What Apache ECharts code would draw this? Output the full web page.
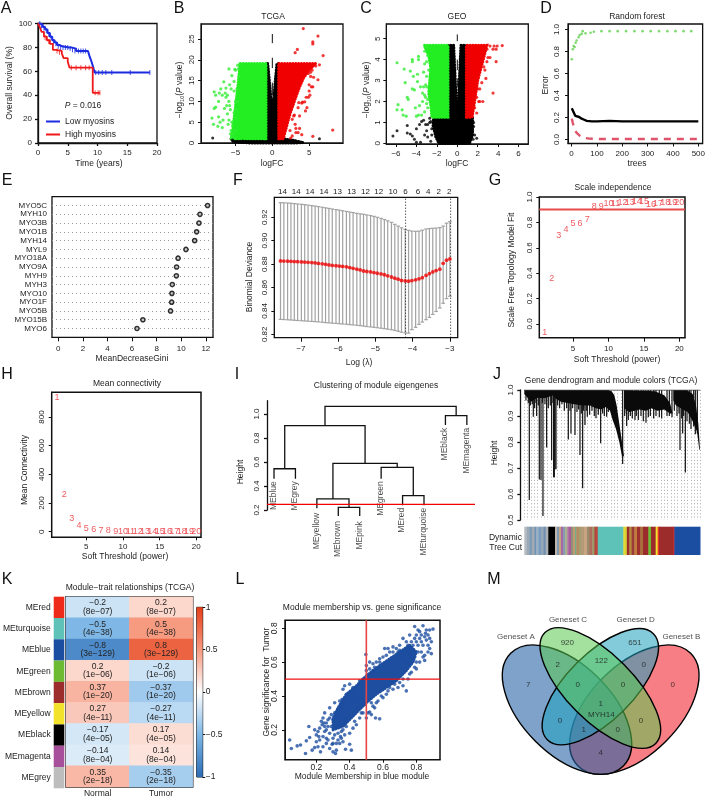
<!DOCTYPE html>
<html><head><meta charset="utf-8"><style>html,body{margin:0;padding:0;background:#fff}#c{width:708px;height:798px}</style>
<script src="https://cdn.jsdelivr.net/npm/echarts@6/dist/echarts.min.js"></script></head>
<body><div id="c"></div><script>
// ---------- A survival
const kmLow=[[0,100],[0.4,99],[0.8,97],[1.2,95],[1.6,92],[2,89],[2.4,86],[2.8,84],[3.2,82],[3.6,81],[4,80],[5.2,80],[5.6,79],[6.4,77],[8.4,76],[8.7,72],[9,68],[9.3,63],[9.5,59],[18.8,59]];
const kmHigh=[[0,100],[0.3,97],[0.6,93],[1,89],[1.5,86],[2,83],[2.5,78],[3,77],[4,75],[4.3,71],[5,68],[5.3,63],[9.2,63],[9.2,42],[10.4,42]];
const kmLowCens=[[0.3,100],[0.6,98],[1,96],[1.4,94],[1.8,91],[2.2,88],[2.6,85],[3,83],[3.4,81],[3.8,80],[4.2,80],[4.6,80],[5,80],[5.4,79],[5.8,78],[6.2,77],[6.8,77],[7.2,77],[7.6,77],[8,77],[9.7,59],[10.2,59],[10.8,59],[11.4,59],[12.4,59],[15.5,59],[18.8,59]];
const kmHighCens=[[1.2,88],[1.8,85],[3.2,77],[3.6,76],[5.6,63],[6.4,63],[7.2,63],[8,63],[8.6,63],[9.6,42],[10.1,42],[10.4,42]];
// ---------- B volcano TCGA
const tcgaGreenCore=[[-0.85,1],[-0.85,19.1],[-4.4,19.1],[-4.5,17],[-4.6,15],[-4.8,12],[-5,9],[-5.2,6],[-5.4,3],[-5.6,1]];
const tcgaRedCore=[[0.85,1],[0.85,19.1],[5.9,19.1],[5,17.5],[4.2,15.5],[3.6,13],[3,10],[2.5,7.5],[2.1,5],[1.8,3],[1.5,1]];
const tcgaBlackCore=[[-0.85,0.6],[-0.85,19.1],[-0.62,19.1],[-0.4,15],[-0.2,11],[-0.05,8],[0.05,8],[0.2,11],[0.4,15],[0.62,19.1],[0.85,19.1],[0.85,0.6]];
const tcgaBlackBase=[[-5.6,1],[-5.3,0.3],[-3,0],[3,0],[4.2,0.1],[3,0.6],[1.5,1]];
const tcgaDash=[[0,24,26.2],[0,18,20.5],[0,11.5,14.5]];
const tcgaGreen=[[-8,4.5],[-8.2,6],[-7.9,8.3],[-7.7,8.6],[-7.4,4],[-7.3,6.3],[-7.1,5],[-6.8,3.7],[-6.7,5.5],[-6.5,8.3],[-6.4,12],[-6.3,11],[-6.1,7],[-6,4.5],[-5.9,5.5],[-5.7,8],[-5.6,3],[-5.5,5],[-5.4,4.2],[-5.2,7.3],[-5,3],[-5,6],[-7.7,11.5],[-7.2,12],[-7,13],[-6.6,14.7],[-6.3,13.2],[-6.1,11.5],[-5.9,10],[-5.8,14],[-5.5,16.2],[-5.2,14.8],[-5.1,17.7],[-5.9,17.8],[-5.2,12.5],[-5,10],[-5.6,13],[-5.8,9],[-5,17.5],[-4.8,13],[-4.7,10],[-4.9,8],[-4.6,17.8],[-4.5,16],[-4.7,18.7],[-4.4,19],[-7.9,12.3],[-6.2,9],[-6.8,11.5],[-7.3,10],[-5.5,1.6],[-5.3,2.3],[-5.7,2.2],[-5.1,1.2]];
const tcgaRed=[[4.2,27.5],[6.2,25.7],[5.5,24.3],[5.5,23.8],[3.4,22.5],[3.1,21.7],[6.9,21],[6.4,18.8],[5.9,18.5],[5.4,17.5],[5.2,17],[4.9,16.7],[5.2,16],[5.6,15.8],[6.2,15.2],[5,14],[5.3,13.5],[5.5,13.5],[5,12.5],[5.1,11.5],[4.6,11],[4.9,11],[4.1,9.8],[4.4,9.9],[4,9.6],[3.6,9.7],[3.5,8.5],[2.9,11],[2.7,9],[2.9,6.5],[3,6.7],[2.7,5.7],[3.1,4.5],[3.2,3.5],[3.7,3.5],[3.5,2.5],[2.7,1.7],[2.4,3],[2.5,1.2],[5.5,1.6],[8.2,3.1],[4.5,7.7],[4.7,8.5],[3.7,6.5],[3.2,2.5],[4,2]];
const tcgaBlack=[[-8.1,1.2],[6.4,1],[3.2,0.3],[-5.4,0.7],[-4,0.5],[-3.5,0.3],[3,0.5],[3.5,0.2]];
// ---------- C volcano GEO
const geoGreenCore=[[-0.9,1.25],[-0.9,4.68],[-3.25,4.68],[-2.8,4.2],[-2.6,3.6],[-2.7,3],[-2.8,2.4],[-2.6,1.8],[-2.5,1.25]];
const geoRedCore=[[0.88,1.25],[0.88,4.68],[2.9,4.68],[2.55,4],[2,3],[1.7,2],[1.45,1.25]];
const geoBlackCore=[[-2.3,1.25],[-2.4,0.9],[-2.1,0.3],[-1.8,0],[1.2,0],[1.5,0.4],[1.5,1.25],[0.88,1.25],[0.88,4.68],[0.35,4.68],[0.15,2.5],[0.02,1.3],[-0.05,1.3],[-0.15,2.5],[-0.35,4.68],[-0.9,4.68],[-0.9,1.25]];
const geoDash=[[0,4.88,5.2],[0,3.5,4],[0,2.7,3.1]];
const geoGreen=[[-5.9,3.85],[-5.2,3.55],[-4.6,3.45],[-4.4,4],[-4.4,3.9],[-3.8,4.15],[-3.8,4],[-4.3,3.2],[-3.9,2.95],[-3.9,3.3],[-5.1,2.9],[-5.4,1.6],[-5.8,1.85],[-5.9,1.6],[-5.3,1.35],[-5,1.3],[-4.8,2.1],[-4.9,2.2],[-4.4,2.6],[-4.1,1.7],[-4,1.3],[-3.8,1.35],[-3.7,1.8],[-3.6,2.7],[-3.4,2.4],[-3.3,3.4],[-3.2,4.4],[-3.2,3.8],[-3,3.2],[-3.1,2.8],[-2.9,1.7],[-3.2,1.5],[-3.4,2],[-3.5,1.35],[-4.2,2.55],[-3,2.7],[-2.8,3.5],[-3,4.6],[-3.1,2.2],[-3.2,2.3],[-3,1.9],[-2.9,2.1],[-3.3,2.7],[-3,3.9],[-2.9,4.2]];
const geoRed=[[3.6,4.65],[3.8,4.5],[4.4,4.67],[3.9,4.65],[3.5,4.5],[3.2,4.1],[3,4.1],[3.8,3.9],[2.9,3.9],[2.6,3.65],[2.7,3.5],[2.1,3.4],[2.8,3.1],[3.5,2.4],[2.2,2.6],[2,2.6],[1.9,2.2],[2.2,2],[2.5,2],[2.1,2],[1.9,1.45],[1.7,1.7],[2.4,2.9],[2.9,4.5],[3.2,4.65]];
const geoBlack=[[-6.3,0.35],[-5.9,0.6],[-4.9,0.85],[-4.9,0.5],[-4.6,0.45],[-4.4,0.35],[-4.2,0.2],[-4,0.05],[-3.6,0.05],[-4,0.7],[-3.5,1.05],[-3.1,0.9],[-3.3,1.1],[-2.9,0.3],[-3,0.6],[-2.7,1],[-3.2,0.4],[-2.6,0.1],[1.6,0.8],[1.9,0.25],[1.7,0.4],[1.5,0.6],[1.6,1],[1.55,0.2],[-3.7,0.9],[-2.5,0.7],[-2.5,0.4],[-2.7,1.2],[-2.9,0.9],[-2.6,1.05]];
// ---------- D random forest
const rfOOB=[[1,0.285],[5,0.27],[10,0.24],[15,0.215],[20,0.21],[30,0.205],[40,0.19],[50,0.18],[60,0.17],[80,0.165],[100,0.165],[150,0.17],[200,0.165],[300,0.165],[400,0.165],[500,0.165]];
const rfClass1=[[1,0.19],[5,0.15],[10,0.11],[15,0.08],[20,0.06],[30,0.04],[40,0.025],[50,0.015],[70,0.008],[100,0.005],[200,0.005],[300,0.005],[400,0.005],[500,0.005]];
const rfClass2=[[1,0.73],[5,0.82],[8,0.85],[12,0.84],[16,0.88],[20,0.9],[28,0.93],[32,0.95],[40,0.96],[44,0.985],[55,0.965],[75,0.97],[88,0.98],[118,0.985],[150,0.985],[182,0.985],[215,0.985],[248,0.985],[280,0.985],[312,0.985],[345,0.985],[378,0.985],[410,0.985],[442,0.985],[472,0.985]];
// ---------- E variable importance
const myoGenes=['MYO5C','MYH10','MYO3B','MYO1B','MYH14','MYL9','MYO18A','MYO9A','MYH9','MYH3','MYO10','MYO1F','MYO5B','MYO15B','MYO6'];
const myoGini=[12.14,11.52,11.44,11.25,11.09,10.38,9.74,9.62,9.6,9.27,9.24,9.22,9.13,6.88,6.4];
// ---------- F lasso CV
const cvLogLambda=[-7.55,-7.46,-7.36,-7.27,-7.18,-7.09,-6.99,-6.90,-6.81,-6.71,-6.62,-6.53,-6.43,-6.34,-6.25,-6.16,-6.06,-5.97,-5.88,-5.78,-5.69,-5.60,-5.50,-5.41,-5.32,-5.23,-5.13,-5.04,-4.95,-4.85,-4.76,-4.67,-4.57,-4.48,-4.39,-4.30,-4.20,-4.11,-4.02,-3.92,-3.83,-3.74,-3.64,-3.55,-3.46,-3.37,-3.27,-3.18,-3.09,-3.00];
const cvMean=[.8827,.8826,.8825,.8824,.8822,.8821,.8819,.8817,.8815,.8813,.8810,.8806,.8802,.8798,.8793,.8789,.8786,.8783,.8780,.8777,.8770,.8764,.8757,.8750,.8741,.8737,.8733,.8728,.8722,.8716,.8709,.8700,.8690,.8680,.8671,.8660,.8656,.8654,.8659,.8666,.8674,.8684,.8703,.8718,.8733,.8745,.8757,.8807,.8834,.8844];
const cvUpper=[.9325,.9324,.9322,.9320,.9317,.9314,.9311,.9308,.9304,.9300,.9296,.9291,.9286,.9281,.9276,.9271,.9266,.9261,.9256,.9250,.9245,.9240,.9234,.9229,.9226,.9220,.9215,.9208,.9200,.9191,.9181,.9170,.9157,.9140,.9125,.9110,.9097,.9088,.9082,.9080,.9082,.9090,.9100,.9104,.9106,.9108,.9112,.9125,.9150,.9163];
const cvLower=[.8328,.8326,.8324,.8322,.8320,.8318,.8316,.8314,.8312,.8310,.8308,.8306,.8303,.8300,.8298,.8295,.8293,.8290,.8288,.8286,.8283,.8280,.8277,.8274,.8270,.8266,.8263,.8260,.8256,.8252,.8248,.8244,.8239,.8233,.8226,.8218,.8212,.8210,.8240,.8260,.8285,.8305,.8325,.8345,.8370,.8395,.8425,.8465,.8505,.8525];
const cvTopPos=[-7.5,-7.13,-6.76,-6.38,-6.02,-5.64,-5.27,-4.91,-4.53,-4.19,-3.86,-3.58,-3.3,-3.02];
const cvTopLabels=['14','14','14','14','13','13','12','12','10','6','6','4','2','2'];
const cvVLines=[-4.19,-2.98];
// ---------- G / H soft threshold
const softPower=[1,2,3,4,5,6,7,8,9,10,11,12,13,14,15,16,17,18,19,20];
const scaleFit=[-0.066,0.36,0.695,0.742,0.795,0.79,0.823,0.929,0.924,0.945,0.948,0.953,0.958,0.966,0.966,0.94,0.945,0.953,0.955,0.958];
const meanConn=[935,261,93,40,21,12,8,5,4,3,2,2,2,1,1,1,1,1,0,0];
// ---------- I eigengene clustering
const eigenLeaves=['MEblue','MEgrey','MEyellow','MEbrown','MEpink','MEgreen','MEred','MEturquoise','MEblack','MEmagenta'];
const eigenLabelTop=[0.436,0.436,0.172,0.103,0.103,0.436,0.214,0.214,0.881,0.881];
// xLeft, legBottomLeft, xRight, legBottomRight, mergeHeight
const eigenMerges=[[1,0.46,2,0.46,0.544],[4,0.15,5,0.15,0.222],[3,0.214,4.5,0.222,0.292],[7,0.24,8,0.24,0.32],[6,0.46,7.5,0.32,0.556],[3.75,0.292,6.75,0.556,0.589],[1.5,0.544,5.25,0.589,0.903],[9,0.908,10,0.908,0.986],[3.38,0.903,9.5,0.986,1.064]];
// ---------- J gene dendrogram
const dendroCluster1=[[0,1],[252,1],[262,.995],[270,.98],[277,.94],[285,.87],[293,.8],[299,.745],[293,.745],[285,.8],[275,.85],[265,.885],[257,.92],[245,.935],[230,.925],[215,.93],[197,.94],[175,.94],[150,.945],[130,.95],[110,.955],[92,.968],[88,.98],[60,.968],[40,.97],[20,.955],[10,.97],[0,.985]];
const dendroCluster2=[[299,1],[392,.995],[420,.98],[437,.95],[445,.91],[437,.91],[420,.925],[400,.92],[380,.93],[365,.92],[345,.925],[330,.92],[315,.915],[299,.93]];
const dendroCluster3=[[447,1],[487,1],[505,.985],[515,.94],[522,.87],[527,.77],[525,.77],[518,.84],[505,.88],[490,.915],[470,.93],[455,.94],[447,.96]];
const dendroTop=[[0,1],[527,1]];
const dendroStems=[[15,.577],[45,.656],[50,.654],[56,.515],[67,.779],[82,.731],[88,.664],[90,.664],[92,.695],[95,.695],[132,.81],[140,.833],[152,.827],[167,.75],[175,.622],[182,.865],[229,.795],[189,.897],[215,.891],[247,.897],[295,.715],[307,.862],[365,.874],[332,.885],[467,.769],[483,.683],[475,.833],[519,.833],[27,.897],[37,.9]];
const dendroComb=[[5,.96],[12,.95],[18,.94],[24,.945],[31,.93],[35,.95],[42,.94],[54,.95],[62,.945],[72,.93],[78,.94],[86,.95],[100,.94],[106,.93],[113,.945],[120,.92],[127,.93],[137,.92],[145,.93],[158,.915],[163,.925],[171,.91],[178,.92],[186,.92],[196,.905],[203,.92],[210,.9],[222,.905],[235,.91],[240,.9],[252,.915],[301,.9],[306,.91],[312,.885],[318,.9],[324,.89],[336,.9],[342,.885],[350,.9],[357,.88],[372,.895],[378,.9],[388,.89],[395,.9],[405,.895],[412,.89],[428,.9],[435,.9],[443,.895],[450,.92],[458,.9],[464,.91],[472,.89],[478,.9],[488,.88],[495,.87],[500,.85],[508,.86],[513,.83]];
const stripStart=[0,8,16,24,30,36,42,50,58,64,72,92,98,104,110,116,122,128,132,140,146,152,156,164,170,180,188,196,204,210,216,220,297,304,308,315,322,330,338,348,356,372,380,394,400,404,446,450];
const stripColor=['#b5bac0','#9aa9b6','#7e9cb8','#a7a8ab','#6e95b6','#9db0c4','#7a9dbd','#93a7b8','#6f8fb0','#aab0b5','#000000','#bdb5a8','#7e98b4','#c6a37a','#a56aa6','#8a9ab0','#a8b08e','#b58aa8','#a85c9a','#8f8f7a','#c09a70','#6fae88','#b88a60','#a0a070','#b59a78','#caa480','#9a8a6e','#b06c5a','#9a9a6a','#a94a3a','#c4332b','#5fc2b8','#e6d834','#c8b83a','#9c2b2c','#b38a3c','#9c3b3a','#c07a3a','#a0302e','#a8703a','#9c2b2c','#6cbb33','#9c2b2c','#f2e22c','#e8322a','#9c2b2c','#c02a2a','#1b4ea0'];
// ---------- K module-trait
const modules=['MEred','MEturquoise','MEblue','MEgreen','MEbrown','MEyellow','MEblack','MEmagenta','MEgrey'];
const moduleColor=['#ee2a1b','#5fc2b8','#1b4ea0','#6cbb33','#9c2b2c','#f2e22c','#000000','#a84f9b','#bdbdbd'];
const traits=['Normal','Tumor'];
const corNormal=[-0.2,-0.5,-0.8,0.2,0.37,0.27,-0.17,-0.14,0.35];
const corTumor=[0.2,0.5,0.8,-0.2,-0.37,-0.27,0.17,0.14,-0.35];
const corP=['8e−07','4e−38','3e−129','1e−06','1e−20','4e−11','4e−05','8e−04','2e−18'];
const heatStops=['#2b6cb5','#7fb8e6','#ffffff','#f69a80','#e63e18'];
// ---------- L module membership
const mmCore=[[.3,.2],[.36,.22],[.42,.28],[.5,.36],[.56,.41],[.62,.45],[.68,.49],[.74,.55],[.78,.6],[.80,.66],[.76,.7],[.70,.66],[.64,.62],[.58,.58],[.5,.52],[.44,.46],[.38,.41],[.33,.33],[.3,.27]];
const mmPoints=[[.04,.14],[.05,.09],[.085,.105],[.105,.11],[.135,.06],[.14,.135],[.16,.155],[.155,.22],[.175,.08],[.19,.095],[.21,.10],[.225,.07],[.2,.13],[.215,.16],[.19,.2],[.21,.19],[.23,.25],[.235,.23],[.25,.19],[.26,.15],[.27,.14],[.295,.115],[.3,.07],[.315,.06],[.32,.08],[.34,.12],[.36,.13],[.375,.085],[.37,.17],[.33,.18],[.29,.29],[.245,.24],[.33,.31],[.355,.38],[.36,.44],[.38,.41],[.4,.47],[.46,.49],[.49,.465],[.497,.645],[.5,.55],[.52,.6],[.54,.59],[.56,.6],[.61,.68],[.63,.68],[.65,.62],[.64,.66],[.7,.67],[.72,.74],[.75,.7],[.79,.81],[.81,.79],[.84,.815],[.855,.77],[.88,.79],[.9,.795],[.83,.76],[.8,.76],[.77,.72],[.86,.73],[.89,.65],[.84,.63],[.88,.68],[.8,.6],[.78,.61],[.76,.53],[.74,.43],[.7,.48],[.67,.47],[.6,.44],[.63,.43],[.56,.36],[.52,.305],[.5,.27],[.555,.27],[.58,.265],[.53,.29],[.46,.27],[.43,.25],[.42,.21],[.4,.18],[.41,.08],[.4,.115],[.38,.22],[.345,.16],[.25,.3],[.28,.33],[.3,.26],[.24,.27],[.27,.22],[.31,.36],[.34,.37],[.37,.46],[.44,.44],[.42,.45],[.52,.56],[.5,.58],[.55,.57],[.58,.62],[.6,.63],[.66,.69],[.69,.66],[.74,.72],[.76,.76],[.82,.74],[.87,.7],[.85,.61],[.8,.56],[.72,.5],[.66,.44],[.59,.4],[.54,.34],[.48,.3],[.44,.23],[.36,.2],[.3,.12],[.26,.12],[.22,.14],[.24,.1],[.28,.09],[.33,.14],[.2,.17],[.22,.21],[.24,.16],[.26,.2],[.28,.18],[.25,.22],[.27,.26],[.29,.22],[.31,.17],[.33,.22],[.35,.19],[.37,.25],[.3,.15],[.32,.12],[.35,.15],[.28,.27],[.26,.24],[.31,.3],[.33,.27],[.35,.33],[.37,.36],[.39,.33],[.41,.38],[.43,.41],[.45,.38],[.47,.44],[.43,.31],[.45,.33],[.47,.3],[.49,.35],[.39,.26],[.41,.28],[.51,.3],[.53,.36],[.55,.33],[.57,.37],[.6,.39],[.62,.41],[.64,.45],[.66,.5],[.69,.45],[.72,.46],[.75,.5],[.77,.54],[.79,.57],[.82,.6],[.83,.66],[.85,.64],[.87,.66],[.81,.7],[.83,.72],[.85,.75],[.87,.76],[.89,.72],[.8,.72],[.78,.66],[.76,.64],[.78,.7],[.74,.6],[.72,.64],[.7,.7],[.68,.68],[.66,.66],[.62,.64],[.58,.6],[.54,.55],[.48,.5],[.46,.47],[.42,.42],[.4,.42],[.82,.78],[.86,.79],[.79,.74],[.77,.68],[.88,.74],[.84,.7],[.75,.66],[.73,.67],[.81,.66],[.79,.63]];
const mmThresh=0.5;
// ---------- M venn  (cx, cy, semi-major, semi-minor, tilt deg); draw order B, A, D, C
const vennEllipses=[[493,434,239,134,-45],[291,434,239,134,45],[391,365,225,100,-45],[391,369,235,100,45]];
const vennFill=['rgba(240,40,50,.6)','rgba(40,100,165,.6)','rgba(30,160,190,.55)','rgba(90,200,80,.55)'];
const vennCounts=['7','920','651','0','2','122','0','0','0','1','MYH14','0','0','1','0','4'];
const vennCountX=[175,292,495,608,263,394,521,323,459,392,394,270,513,341,443,392];
const vennCountY=[358,232,232,360,298,286,298,360,360,415,448,468,468,495,495,564];
const vennSets=['Geneset A','Geneset C','Geneset D','Geneset B'];
const vennSetX=[138,294,497,634];
const vennSetY=[216,165,165,216];

const FONT='"Liberation Sans",Arial,Helvetica,sans-serif', INK='#1c1c1c';
const grid=[],xAxis=[],yAxis=[],series=[],gfx=[];
const fmtNum=(v,d)=>v.toFixed(d).replace('-','−');
function txt(t,x,y,o={}){gfx.push({type:'text',x,y,rotation:o.rot?Math.PI/2:0,silent:true,z:20,style:{text:t,fill:o.c||INK,font:(o.s||8.5)+'px '+FONT,align:o.a||'center',verticalAlign:'middle',rich:o.rich}});}
function axis(gi,o){return Object.assign({type:'value',gridIndex:gi,min:o.min,max:o.max,position:o.pos,offset:o.offset||0,
 axisLine:{show:o.line!==false,onZero:false,lineStyle:{color:'#111',width:o.lw||1}},
 axisTick:{show:!!o.ticks,length:o.tl||3,customValues:o.ticks,lineStyle:{color:'#111',width:o.lw||1}},
 axisLabel:{show:!!o.ticks,customValues:o.ticks,rotate:o.rot?90:0,fontSize:o.fs||8,fontFamily:FONT,color:INK,margin:o.m||5,formatter:o.f||(v=>fmtNum(v,o.d||0))},
 splitLine:{show:false}},o.extra||{});}
function panel(l,t,w,h,xo,yo,box=true,bw=1.3){const gi=grid.length;
 grid.push({left:l,top:t,width:w,height:h,show:box,borderColor:'#111',borderWidth:bw,backgroundColor:'transparent',containLabel:false});
 xo.pos=xo.pos||'bottom';yo.pos=yo.pos||'left';
 xAxis.push(xo.raw||axis(gi,xo));yAxis.push(yo.raw||axis(gi,yo));return gi;}
const base=gi=>({xAxisIndex:gi,yAxisIndex:gi});
function dots(gi,data,color,size,extra){series.push(Object.assign({type:'scatter',...base(gi),data,symbolSize:size,itemStyle:{color},silent:true,clip:false},extra||{}));}
function polys(gi,list,color,rough){series.push({type:'custom',...base(gi),silent:true,clip:false,data:list.map((_,i)=>[i,i]),
 renderItem:(p,api)=>({type:'polygon',shape:{points:list[api.value(0)].map(q=>api.coord(q))},style:rough?{fill:color,stroke:color,lineWidth:3,lineDash:[0.2,2.6],lineCap:'round'}:{fill:color}})});}
function vsegs(gi,data,color,w,dash){series.push({type:'custom',...base(gi),silent:true,clip:false,data,encode:{x:0,y:[1,2]},
 renderItem:(p,api)=>({type:'line',shape:{x1:api.coord([api.value(0),api.value(1)])[0],y1:api.coord([api.value(0),api.value(1)])[1],x2:api.coord([api.value(0),api.value(2)])[0],y2:api.coord([api.value(0),api.value(2)])[1]},style:{stroke:color,lineWidth:w,lineDash:dash||null}})});}
function numLabels(gi,vals,color){dots(gi,vals.map((v,i)=>[softPower[i],v]),'transparent',1,{label:{show:true,position:'inside',formatter:p=>String(softPower[p.dataIndex]),color,fontSize:9,fontFamily:FONT}});}

// ===== A
let g=panel(38,23.5,119,119.5,{min:0,max:20,ticks:[0,5,10,15,20],lw:1.3,m:6},{min:0,max:100,ticks:[0,20,40,60,80,100],lw:1.3,m:6});
series.push({type:'line',name:'Low myosins',...base(g),data:kmLow,step:'end',symbol:'none',lineStyle:{color:'#1a2be0',width:2},itemStyle:{color:'#1a2be0'},silent:true});
series.push({type:'line',name:'High myosins',...base(g),data:kmHigh,step:'end',symbol:'none',lineStyle:{color:'#f01818',width:1.8},itemStyle:{color:'#f01818'},silent:true});
dots(g,kmLowCens,'#1a2be0',[1,5],{symbol:'rect'});dots(g,kmHighCens,'#f01818',[1,5],{symbol:'rect'});
txt('{i|P}{n| = 0.016}',83,106,{rich:{i:{fontStyle:'italic',fontSize:8.5,fontFamily:FONT,fill:INK},n:{fontSize:8.5,fontFamily:FONT,fill:INK}}});
txt('Time (years)',99,164);txt('Overall survival (%)',10,83,{rot:1});
const volRich={n:{fontSize:8.5,fontFamily:FONT},s:{fontSize:5.5,fontFamily:FONT,verticalAlign:'bottom',padding:[5,0,0,0]},i:{fontSize:8.5,fontStyle:'italic',fontFamily:FONT}};
// ===== B
g=panel(201,24,142,119,{min:-9.69,max:9.6,ticks:[-5,0,5],m:6},{min:0,max:28.6,ticks:[0,5,10,15,20,25],rot:1});
polys(g,[tcgaBlackCore,tcgaBlackBase],'#000',true);polys(g,[tcgaGreenCore],'#22ee22',true);polys(g,[tcgaRedCore],'#f00000',true);
vsegs(g,tcgaDash,'#111',1);
dots(g,tcgaGreen,'#33ee33',3.2);dots(g,tcgaRed,'#ee0808',3.2);dots(g,tcgaBlack,'#000',3);
txt('TCGA',273,17);txt('logFC',272,164);txt('{n|−log}{s|10}{n|(}{i|P}{n| value)}',180,90,{rot:1,rich:volRich});
// ===== C
g=panel(386.3,24,142,120,{min:-6.95,max:6.95,ticks:[-6,-4,-2,0,2,4,6],m:6},{min:-0.03,max:5.7,ticks:[0,1,2,3,4,5],rot:1});
polys(g,[geoBlackCore],'#000',true);polys(g,[geoGreenCore],'#22ee22',true);polys(g,[geoRedCore],'#f00000',true);
vsegs(g,geoDash,'#111',1);
dots(g,geoGreen,'#33ee33',3.2);dots(g,geoRed,'#ee0808',3.2);dots(g,geoBlack,'#000',3);
txt('GEO',457,17);txt('logFC',457,164);txt('{n|−log}{s|10}{n|(}{i|P}{n| value)}',367,90,{rot:1,rich:volRich});
// ===== D
g=panel(568,24,136,119.5,{min:-14,max:517,ticks:[0,100,200,300,400,500],m:6},{min:-0.036,max:1.05,ticks:[0,.2,.4,.6,.8,1],d:1,rot:1,m:7});
series.push({type:'line',...base(g),data:rfOOB,symbol:'none',lineStyle:{color:'#000',width:2.4},silent:true});
series.push({type:'line',...base(g),data:rfClass1,symbol:'none',lineStyle:{color:'#df536b',width:2.4,type:[7,6]},silent:true});
dots(g,rfClass2,'#61d04f',2.6);
txt('Random forest',637,17);txt('trees',637,164);txt('Error',546,85,{rot:1});
// ===== E
const eCats=['',...myoGenes,''];
g=panel(52,196.7,161,140.6,{min:-0.51,max:12.58,ticks:[0,2,4,6,8,10,12],tl:4,m:7},{raw:{type:'category',gridIndex:grid.length,data:eCats,inverse:true,boundaryGap:false,position:'left',axisLine:{show:false},axisTick:{show:false},axisLabel:{interval:0,fontSize:8,fontFamily:FONT,color:INK,margin:5},splitLine:{show:true,interval:(i)=>i>0&&i<eCats.length-1,lineStyle:{color:'#999',type:[1,3],width:1}}}});
dots(g,myoGenes.map((n,i)=>[myoGini[i],n]),'#fff',4.2,{itemStyle:{color:'#bbb',borderColor:'#000',borderWidth:1.5}});
txt('MeanDecreaseGini',132,359);
// ===== F
const fGrid=panel(274.3,197.3,183.4,140.4,{min:-7.717,max:-2.79,ticks:[-7,-6,-5,-4,-3],tl:4,m:7},{min:.8171,max:.9371,ticks:[.82,.84,.86,.88,.90,.92],d:2,rot:1,m:6});
g=fGrid;
const cvBars=cvLogLambda.map((x,i)=>[x,cvLower[i],cvUpper[i]]);
series.push({type:'custom',...base(g),silent:true,data:cvBars,encode:{x:0,y:[1,2]},renderItem:(p,api)=>{const x=api.value(0),a=api.coord([x,api.value(1)]),b=api.coord([x,api.value(2)]);const st={stroke:'#a2a2a2',lineWidth:1.2};return{type:'group',children:[{type:'line',shape:{x1:a[0],y1:a[1],x2:b[0],y2:b[1]},style:st},{type:'line',shape:{x1:a[0]-1.8,y1:a[1],x2:a[0]+1.8,y2:a[1]},style:st},{type:'line',shape:{x1:b[0]-1.8,y1:b[1],x2:b[0]+1.8,y2:b[1]},style:st}]};}});
dots(g,cvLogLambda.map((x,i)=>[x,cvMean[i]]),'#f00000',3.8);
vsegs(g,cvVLines.map(x=>[x,.8171,.9371]),'#111',1,[1,2]);
txt('Log (λ)',359,363);txt('Binomial Deviance',250,277,{rot:1});
// ===== G
g=panel(539.3,197,145.7,140.7,{min:0.247,max:20.8,ticks:[5,10,15,20],tl:4,m:7},{min:-0.108,max:1.0,ticks:[0,.2,.4,.6,.8,1],d:1,rot:1,m:6},true,1.5);
numLabels(g,scaleFit,'#ea3036');
series.push({type:'line',...base(g),data:[[0.247,.902],[20.8,.902]],symbol:'none',lineStyle:{color:'#e84a4a',width:2},silent:true});
txt('Scale independence',613,188);txt('Soft Threshold (power)',617,360);txt('Scale Free Topology Model Fit',512,270,{rot:1});
// ===== H
g=panel(51.7,392.3,149.3,145,{min:.28,max:20.64,ticks:[5,10,15,20],m:5},{min:-39,max:973,ticks:[0,200,400,600,800],rot:1,m:6},true,1.5);
numLabels(g,meanConn,'#ea3036');
txt('Mean connectivity',127,384);txt('Soft Threshold (power)',125,557);txt('Mean Connectivity',25,470,{rot:1});
// ===== I
g=panel(267,400.7,208,109.3,{min:0.673,max:10.38,line:false},{min:.2,max:1.111,ticks:[.2,.4,.6,.8,1],d:1,rot:1,m:6,lw:1.3},false);
series.push({type:'custom',...base(g),silent:true,clip:false,data:eigenMerges,encode:{x:[0,2],y:[1,3,4]},renderItem:(p,api)=>{const [a,b,c,d,h]=[0,1,2,3,4].map(i=>api.value(i));return{type:'polyline',shape:{points:[api.coord([a,b]),api.coord([a,h]),api.coord([c,h]),api.coord([c,d])]},style:{stroke:'#111',lineWidth:1.3,fill:'none'}};}});
dots(g,eigenLeaves.map((n,i)=>[i+1,eigenLabelTop[i]]),'transparent',1,{label:{show:true,position:[0,0],rotate:90,align:'right',verticalAlign:'middle',formatter:p=>eigenLeaves[p.dataIndex],fontSize:8.5,fontFamily:FONT,color:INK}});
series.push({type:'line',...base(g),data:[[0.673,.247],[10.38,.247]],symbol:'none',lineStyle:{color:'#f00000',width:1.3},silent:true,z:5});
txt('Clustering of module eigengenes',376,386);txt('Height',241,472,{rot:1});
// ===== J
g=panel(524.3,390,175.7,130,{min:0,max:527,line:false,extra:{interval:10,splitLine:{show:true,lineStyle:{color:'#aaa',width:1,type:[1,2.33]}}}},{min:.5,max:1,ticks:[.5,.6,.7,.8,.9,1],d:1,rot:1,offset:4,m:6,lw:1.3},false);
vsegs(g,dendroStems.map(d=>[d[0],1,d[1]]),'#111',1.2);
vsegs(g,dendroComb.map(d=>[d[0],1,d[1]]),'#111',1.2);
polys(g,[dendroCluster1,dendroCluster2,dendroCluster3],'#0a0a0a',false);
series.push({type:'line',...base(g),data:dendroTop,symbol:'none',lineStyle:{color:'#444',width:1.2},silent:true});
txt('Gene dendrogram and module colors (TCGA)',611,381);txt('Height',495,453,{rot:1});
txt('Dynamic',522,538,{a:'right'});txt('Tree Cut',522,548,{a:'right'});
g=panel(524.3,526.7,175.7,28.3,{min:0,max:527,line:false},{min:0,max:1,line:false},false);
series.push({type:'custom',...base(g),silent:true,data:stripStart.map((s,i)=>[s,i<stripStart.length-1?stripStart[i+1]:527,i]),encode:{x:[0,1]},renderItem:(p,api)=>{const a=api.coord([api.value(0),1]),b=api.coord([api.value(1),0]);return{type:'rect',shape:{x:a[0],y:a[1],width:b[0]-a[0]+.5,height:b[1]-a[1]},style:{fill:stripColor[api.value(2)]}};}});
// ===== K
g=panel(66,596.7,126.7,191.6,{raw:{type:'category',gridIndex:grid.length,data:traits,position:'bottom',axisLine:{show:false},axisTick:{show:false},axisLabel:{fontSize:8.5,fontFamily:FONT,color:INK,margin:2}}},{raw:{type:'category',gridIndex:grid.length,data:modules,inverse:true,position:'left',axisLine:{show:false},axisTick:{show:false},axisLabel:{show:false}}},true,1.5);
const heatData=[];modules.forEach((m,i)=>{heatData.push([0,i,corNormal[i],corP[i]]);heatData.push([1,i,corTumor[i],corP[i]]);});
const heatIdx=series.length;
series.push({type:'heatmap',...base(g),data:heatData,silent:true,label:{show:true,fontSize:8.5,lineHeight:8.5,fontFamily:FONT,color:'#222',formatter:p=>String(p.value[2]).replace('-','−')+'\n('+p.value[3]+')'}});
g=panel(51,596.7,13.3,191.6,{min:0,max:1,line:false},{raw:{type:'category',gridIndex:grid.length,data:modules,inverse:true,position:'left',axisLine:{show:false},axisTick:{show:false},axisLabel:{fontSize:8.5,fontFamily:FONT,color:INK,margin:3,interval:0}}},false);
series.push({type:'bar',...base(g),silent:true,barWidth:'100%',data:modules.map((m,i)=>({value:[1,m],itemStyle:{color:moduleColor[i]}}))});
g=panel(196.7,607.3,6,169.7,{min:0,max:1,line:false},{min:-1,max:1,pos:'right',ticks:[-1,-.5,0,.5,1],tl:2.5,fs:8.5,m:3,f:v=>v===0?'0':String(v).replace('-','−')},true,1);
series.push({type:'custom',...base(g),silent:true,data:[[0,-1,1,1]],encode:{x:[0,2],y:[1,3]},renderItem:(p,api)=>{const a=api.coord([0,1]),b=api.coord([1,-1]);return{type:'rect',shape:{x:a[0],y:a[1],width:b[0]-a[0],height:b[1]-a[1]},style:{fill:new echarts.graphic.LinearGradient(0,0,0,1,heatStops.slice().reverse().map((c,i)=>({offset:i/4,color:c})))}};}});
txt('Module−trait relationships (TCGA)',130,588);
// ===== L
g=panel(285,620.3,155,139.4,{min:.012,max:.942,ticks:[.2,.4,.6,.8],d:1,fs:8.5,m:3.5},{min:.0236,max:.847,ticks:[.2,.4,.6,.8],d:1,rot:1,fs:8.5,m:6},true,1.5);
polys(g,[mmCore],'#1d4ea0',true);dots(g,mmPoints,'#1d4ea0',3.6);
series.push({type:'line',...base(g),data:[[mmThresh,.0236],[mmThresh,.847]],symbol:'none',lineStyle:{color:'#e84444',width:1.6},silent:true});
series.push({type:'line',...base(g),data:[[.012,mmThresh],[.942,mmThresh]],symbol:'none',lineStyle:{color:'#f01010',width:1.3},silent:true});
txt('Module membership vs. gene significance',362,608);txt('Module Membership in blue module',362,777);txt('Gene significance for  Tumor',267,682,{rot:1});
// ===== M
g=panel(470,565,238,233,{min:0,max:714,line:false},{min:0,max:699,line:false,extra:{inverse:true}},false);
series.push({type:'custom',...base(g),silent:true,clip:false,data:vennEllipses.map((e,i)=>[e[0],e[1],e[2],e[3],e[4],i]),encode:{x:0,y:1},renderItem:(p,api)=>{const c=api.coord([api.value(0),api.value(1)]),s=238/714,ang=api.value(4)*Math.PI/180;return{type:'ellipse',x:c[0],y:c[1],rotation:-ang,shape:{cx:0,cy:0,rx:api.value(2)*s,ry:api.value(3)*s},style:{fill:vennFill[api.value(5)],stroke:'#000',lineWidth:1.4}};}});
dots(g,vennCounts.map((n,i)=>[vennCountX[i],vennCountY[i]]),'transparent',1,{label:{show:true,position:'inside',formatter:p=>vennCounts[p.dataIndex],fontSize:8,fontFamily:FONT,color:'#1a1a1a'}});
dots(g,vennSets.map((n,i)=>[vennSetX[i],vennSetY[i]]),'transparent',1,{label:{show:true,position:'inside',formatter:p=>vennSets[p.dataIndex],fontSize:8,fontFamily:FONT,color:'#222'}});
// panel letters
[['A',6,9],['B',179,9],['C',366,9],['D',546,9],['E',7,181],['F',238,181],['G',495,181],['H',7,375],['I',237,375],['J',497,375],['K',7,580],['L',240,580],['M',494,580]].forEach(a=>txt(a[0],a[1],a[2],{s:16,c:'#111'}));

// F: second x axis along the top with the lasso df counts (indices appended after every panel)
xAxis.push(axis(fGrid,{min:-7.717,max:-2.79,pos:'top',line:false,ticks:cvTopPos,m:2,f:v=>{let b=0;cvTopPos.forEach((q,i)=>{if(Math.abs(q-v)<Math.abs(cvTopPos[b]-v))b=i;});return cvTopLabels[b];}}));
xAxis[xAxis.length-1].axisTick.show=false;

const chart=echarts.init(document.getElementById('c'),null,{renderer:'canvas'});
chart.setOption({animation:false,backgroundColor:'#fff',textStyle:{fontFamily:FONT},grid,xAxis,yAxis,series,graphic:{elements:gfx},
 legend:{data:['Low myosins','High myosins'],left:46,top:117,orient:'vertical',icon:'rect',itemWidth:14,itemHeight:2,itemGap:4,padding:0,textStyle:{fontSize:8.5,fontFamily:FONT,color:INK},selectedMode:false},
 visualMap:{show:false,seriesIndex:heatIdx,dimension:2,min:-1,max:1,inRange:{color:heatStops}}});
</script></body></html>
